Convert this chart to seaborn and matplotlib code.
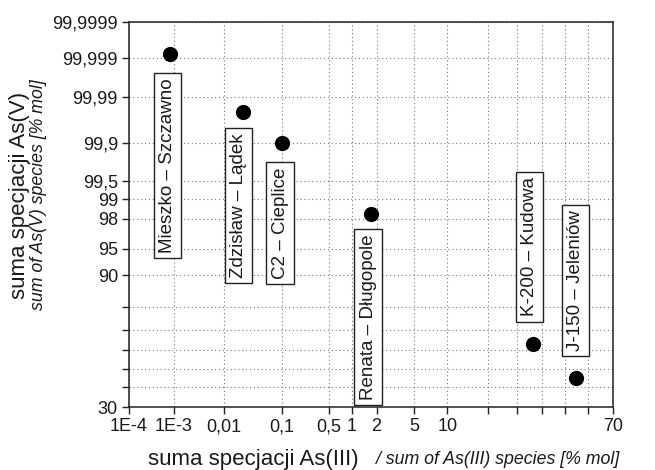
import math
import numpy as np
import pandas as pd
import matplotlib
matplotlib.use("Agg")
import matplotlib.pyplot as plt
import seaborn as sns

# ---------------- data ----------------
stations = ["Mieszko – Szczawno", "Zdzisław – Lądek", "C2 – Cieplice",
            "Renata – Długopole", "K-200 – Kudowa", "J-150 – Jeleniów"]
as3 = [8.5e-4, 0.022, 0.10, 1.72, 36.4, 55.0]          # % mol As(III)
as5 = [99.9992, 99.978, 99.90, 98.3, 63.5, 45.2]       # % mol As(V)

x_ticks = [1e-4, 1e-3, 0.01, 0.1, 0.5, 1, 2, 5, 10, 20, 30, 40, 50, 60, 70]
x_labels = ["1E-4", "1E-3", "0,01", "0,1", "0,5", "1", "2", "5", "10",
            "", "", "", "", "", "70"]
y_ticks = [30, 40, 50, 60, 70, 80, 90, 95, 98, 99, 99.5, 99.9, 99.99, 99.999, 99.9999]
y_labels = ["30", "", "", "", "", "", "90", "95", "98", "99", "99,5", "99,9",
            "99,99", "99,999", "99,9999"]

# label box anchor positions (data coordinates)
label_x = [7.3e-4, 0.0185, 0.095, 1.59, 35.0, 54.7]
label_y = [99.73, 98.73, 97.69, 76.1, 95.25, 88.6]

# ---------------- probability (normal) scale ----------------
_a = [-3.969683028665376e+01, 2.209460984245205e+02, -2.759285104469687e+02,
      1.383577518672690e+02, -3.066479806614716e+01, 2.506628277459239e+00]
_b = [-5.447609879822406e+01, 1.615858368580409e+02, -1.556989798598866e+02,
      6.680131188771972e+01, -1.328068155288572e+01]
_c = [-7.784894002430293e-03, -3.223964580411365e-01, -2.400758277161838e+00,
      -2.549732539343734e+00, 4.374664141464968e+00, 2.938163982698783e+00]
_d = [7.784695709041462e-03, 3.224671290700398e-01, 2.445134137142996e+00,
      3.754408661907416e+00]
_erfc = np.vectorize(math.erfc, otypes=[float])


def _ppf(p):
    p = np.clip(np.asarray(p, dtype=float), 1e-15, 1 - 1e-15)
    t = np.minimum(p, 1 - p)
    q = np.sqrt(-2 * np.log(t))
    tail = (((((_c[0] * q + _c[1]) * q + _c[2]) * q + _c[3]) * q + _c[4]) * q + _c[5]) / \
           ((((_d[0] * q + _d[1]) * q + _d[2]) * q + _d[3]) * q + 1)
    u = t - 0.5
    r = u * u
    cen = (((((_a[0] * r + _a[1]) * r + _a[2]) * r + _a[3]) * r + _a[4]) * r + _a[5]) * u / \
          (((((_b[0] * r + _b[1]) * r + _b[2]) * r + _b[3]) * r + _b[4]) * r + 1)
    x = np.where(t < 0.02425, tail, cen)
    e = 0.5 * _erfc(-x / np.sqrt(2)) - t
    uu = e * np.sqrt(2 * np.pi) * np.exp(x * x / 2)
    x = x - uu / (1 + x * uu / 2)
    return np.where(p < 0.5, x, -x)


def fwd(v):
    return _ppf(np.asarray(v, dtype=float) / 100.0)


def inv(z):
    return 50.0 * _erfc(-np.asarray(z, dtype=float) / np.sqrt(2))


# ---------------- plot ----------------
sns.set_style("ticks")
plt.rcParams["font.family"] = ["Liberation Sans", "DejaVu Sans"]

fig = plt.figure(figsize=(6.55, 4.70), dpi=100)
ax = fig.add_axes([129 / 655, 1 - 407 / 470, (613 - 129) / 655, (407 - 22) / 470])

ax.set_xscale("function", functions=(fwd, inv))
ax.set_yscale("function", functions=(fwd, inv))

df = pd.DataFrame({"station": stations, "as3": as3, "as5": as5})
sns.scatterplot(data=df, x="as3", y="as5", color="black", s=120,
                edgecolor="black", linewidth=0, legend=False, ax=ax, zorder=4)

ax.set_xlim(1e-4, 70)
ax.set_ylim(30, 99.9999)
ax.set_xticks(x_ticks)
ax.set_xticklabels(x_labels)
ax.set_yticks(y_ticks)
ax.set_yticklabels(y_labels)
ax.minorticks_off()
ax.tick_params(axis="both", direction="out", length=5, width=1.0,
               labelsize=13, color="#222222", labelcolor="#1a1a1a", pad=3)
ax.grid(True, linestyle=(0, (1, 2.5)), color="#777777", linewidth=0.8)
ax.set_axisbelow(True)
for sp in ax.spines.values():
    sp.set_visible(True)
    sp.set_color("#222222")
    sp.set_linewidth(1.1)
ax.set_xlabel("")
ax.set_ylabel("")

for name, lx, ly in zip(stations, label_x, label_y):
    ax.text(lx, ly, name, rotation=90, ha="center", va="center", fontsize=13.5,
            color="#1a1a1a", zorder=5,
            bbox=dict(boxstyle="square,pad=0.28", fc="white", ec="#222222", lw=1.0))

# axis titles (regular + italic parts)
fig.text(148 / 655, 1 - 459 / 470, "suma specjacji As(III)", fontsize=16,
         ha="left", va="center", color="#1a1a1a")
fig.text(376 / 655, 1 - 459 / 470, "/ sum of As(III) species [% mol]", fontsize=12.8,
         style="italic", ha="left", va="center", color="#1a1a1a")
fig.text(20 / 655, 1 - 195 / 470, "suma specjacji As(V)", fontsize=16, rotation=90,
         ha="center", va="center", color="#1a1a1a")
fig.text(39 / 655, 1 - 195 / 470, "sum of As(V) species [% mol]", fontsize=12.8,
         style="italic", rotation=90, ha="center", va="center", color="#1a1a1a")

fig.savefig("out.png", dpi=100)
